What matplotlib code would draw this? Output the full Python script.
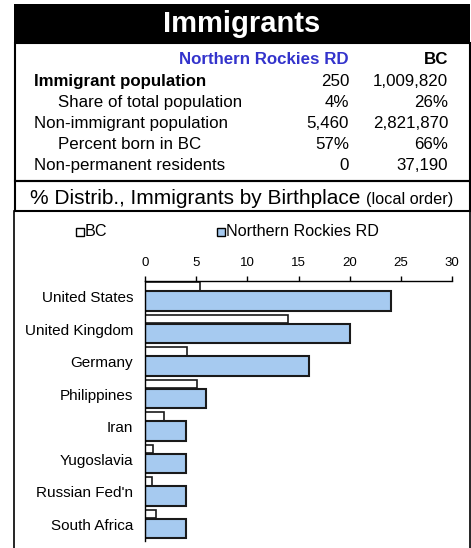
import matplotlib
matplotlib.use("Agg")
import matplotlib.pyplot as plt
from matplotlib.patches import Rectangle
import numpy as np

# ---------------- data ----------------
title = "Immigrants"
col_heads = ["Northern Rockies RD", "BC"]
row_labels = ["Immigrant population", "Share of total population",
              "Non-immigrant population", "Percent born in BC",
              "Non-permanent residents"]
row_indent = [False, True, False, True, False]
row_bold = [True, False, False, False, False]
nr_values = ["250", "4%", "5,460", "57%", "0"]
bc_values = ["1,009,820", "26%", "2,821,870", "66%", "37,190"]

chart_title = "% Distrib., Immigrants by Birthplace"
chart_sub = "(local order)"
countries = ["United States", "United Kingdom", "Germany", "Philippines",
             "Iran", "Yugoslavia", "Russian Fed'n", "South Africa"]
bc_pct = [5.4, 14.0, 4.1, 5.1, 1.85, 0.75, 0.65, 1.1]
nr_pct = [24, 20, 16, 6, 4, 4, 4, 4]
xticks = [0, 5, 10, 15, 20, 25, 30]

# ---------------- figure ----------------
W, H = 471, 548
plt.rcParams['font.family'] = ['Liberation Sans', 'DejaVu Sans']
fig = plt.figure(figsize=(W / 100, H / 100), dpi=100)

def fx(px):
    return px / W

def fy(py):
    return 1 - py / H

def rect(x0, y0, x1, y1, **kw):
    fig.patches.append(Rectangle((fx(x0), fy(y1)), (x1 - x0) / W, (y1 - y0) / H,
                                 transform=fig.transFigure, figure=fig, **kw))

# header
rect(14, 4, 470, 43, facecolor='black', edgecolor='black', lw=0)
fig.text(fx(242), fy(23.5), title, color='white', fontsize=21, fontweight='bold',
         ha='center', va='center')

# boxes
rect(14.5, 43, 469.5, 181, fill=False, edgecolor='black', lw=1.5)
rect(14.5, 181, 469.5, 211, fill=False, edgecolor='black', lw=1.5)
rect(14, 211, 469.5, 600, fill=False, edgecolor='black', lw=1.2)

# table
fs = 12.2
fig.text(fx(349), fy(64), col_heads[0], color='#3333CC', fontsize=fs,
         fontweight='bold', ha='right', va='baseline')
fig.text(fx(448), fy(64), col_heads[1], color='black', fontsize=fs,
         fontweight='bold', ha='right', va='baseline')
for i, lab in enumerate(row_labels):
    yb = 86 + 21 * i
    fig.text(fx(58 if row_indent[i] else 34), fy(yb), lab, fontsize=fs,
             fontweight='bold' if row_bold[i] else 'normal', ha='left', va='baseline')
    fig.text(fx(349), fy(yb), nr_values[i], fontsize=fs, ha='right', va='baseline')
    fig.text(fx(448), fy(yb), bc_values[i], fontsize=fs, ha='right', va='baseline')

# chart title
fig.text(fx(30), fy(203.5), chart_title, fontsize=15, ha='left', va='baseline')
fig.text(fx(366), fy(203.5), chart_sub, fontsize=11.7, ha='left', va='baseline')

# legend (manual)
rect(75.5, 227.5, 83.5, 236, facecolor='white', edgecolor='black', lw=1)
fig.text(fx(84.5), fy(232), "BC", fontsize=11.6, ha='left', va='center')
rect(216.5, 227.5, 224.5, 236, facecolor='#A6CAF0', edgecolor='black', lw=1)
fig.text(fx(225.5), fy(232), "Northern Rockies RD", fontsize=11.6, ha='left', va='center')

# axes
ax_top, ax_bot = 280.7, 540.7
ax = fig.add_axes([fx(145), fy(ax_bot), (452 - 145) / W, (ax_bot - ax_top) / H])
y = np.arange(len(countries))
ax.barh(y - 0.317, bc_pct, height=0.267, color='white', edgecolor='#1a1a1a', lw=1.2)
ax.barh(y + 0.12, nr_pct, height=0.606, color='#A6CAF0', edgecolor='#1a1a1a', lw=1.5)
ax.set_xlim(0, 30)
ax.set_ylim(len(countries) - 0.5, -0.5)
ax.set_yticks(y)
ax.set_yticklabels(countries, fontsize=11)
ax.set_xticks(xticks)
ax.set_xticklabels([str(t) for t in xticks], fontsize=9.5)
ax.xaxis.tick_top()
ax.tick_params(axis='x', direction='out', length=3.4, width=1, pad=5, colors='black')
ax.tick_params(axis='y', length=0, pad=8.6)
for s in ['right', 'bottom']:
    ax.spines[s].set_visible(False)
ax.spines['top'].set_linewidth(1)
ax.spines['left'].set_linewidth(1)
ax.patch.set_alpha(0)

fig.savefig("out.png", dpi=100)
